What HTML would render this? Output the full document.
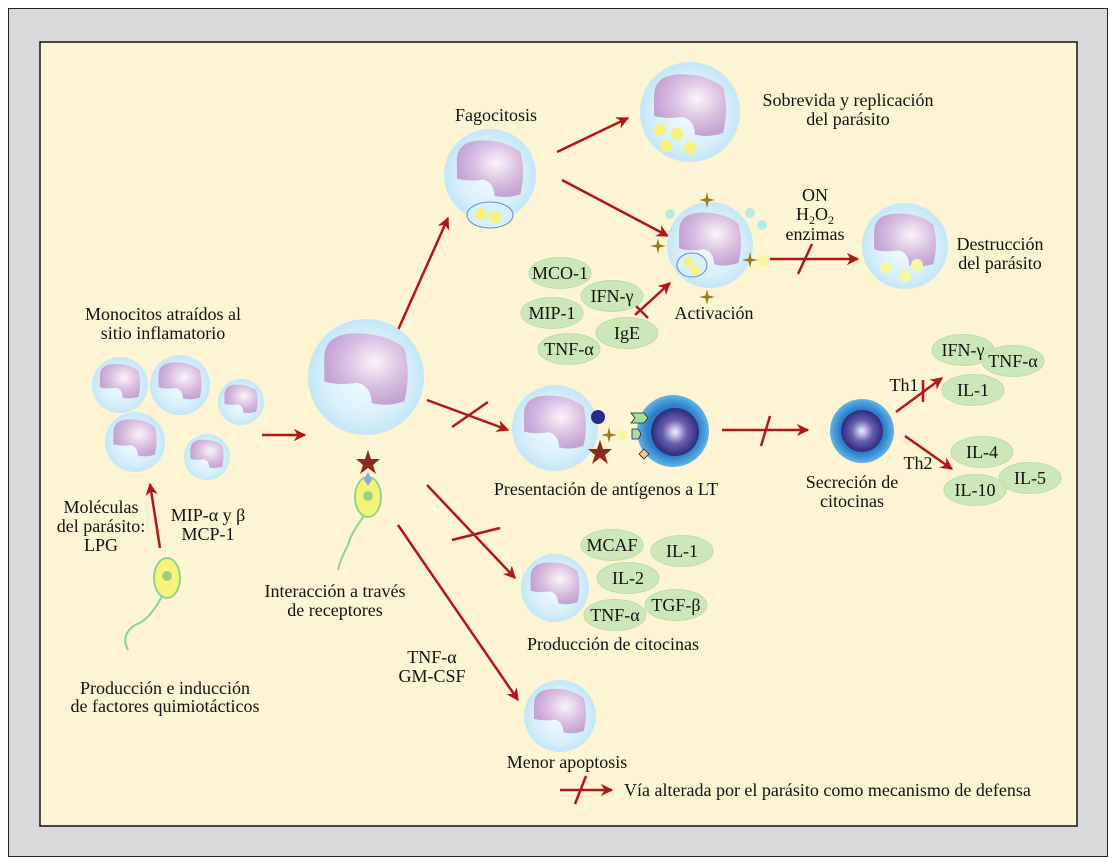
<!DOCTYPE html>
<html><head><meta charset="utf-8"><style>
html,body{margin:0;padding:0;background:#fff;}
svg{display:block;font-family:"Liberation Serif",serif;}
text{font-size:18px;fill:#111;text-anchor:middle;}
</style></head><body>
<svg width="1116" height="864" viewBox="0 0 1116 864" xmlns="http://www.w3.org/2000/svg">
<defs>
<radialGradient id="cg" cx="50%" cy="50%" r="50%"><stop offset="0" stop-color="#f4fbff"/><stop offset="0.7" stop-color="#d8f0fb"/><stop offset="1" stop-color="#c3e6f7"/></radialGradient>
<radialGradient id="ng" cx="60%" cy="40%" r="60%"><stop offset="0" stop-color="#fbf4fb"/><stop offset="0.6" stop-color="#d8bde0"/><stop offset="1" stop-color="#c4a2d2"/></radialGradient>
<radialGradient id="tg" cx="50%" cy="50%" r="50%"><stop offset="0" stop-color="#f4f0ff"/><stop offset="0.5" stop-color="#6b5fb0"/><stop offset="1" stop-color="#2d2a7a"/></radialGradient>
<radialGradient id="tb" cx="50%" cy="50%" r="50%"><stop offset="0.7" stop-color="#2c7fc7"/><stop offset="1" stop-color="#5fb4e6"/></radialGradient>
<g id="cell"><circle r="1" fill="url(#cg)"/><path d="M-0.72,-0.35 Q-0.7,-0.72 -0.25,-0.75 Q0.3,-0.78 0.66,-0.5 Q0.78,-0.05 0.66,0.42 Q0.35,0.52 0.1,0.45 Q0.08,0.15 -0.15,0.1 Q-0.45,0.15 -0.72,0.08 Z" fill="url(#ng)"/></g>
<g id="oval"><ellipse rx="31" ry="15.5" fill="#cde8b8" stroke="#bcdcaa" stroke-width="1"/></g>
<marker id="ah" viewBox="0 0 10 10" refX="9" refY="5" markerWidth="5" markerHeight="5" orient="auto"><path d="M0,0 L10,5 L0,10 L3,5 Z" fill="#b01818"/></marker>
<g id="spark"><path d="M0,-8 L1.5,-1.5 L8,0 L1.5,1.5 L0,8 L-1.5,1.5 L-8,0 L-1.5,-1.5Z" fill="#9a7a1a"/></g>
</defs>
<rect x="8.5" y="8.5" width="1099" height="848" fill="#d9d9dc" stroke="#222" stroke-width="1"/>
<rect x="40" y="42" width="1037" height="784" fill="#fdf4d3" stroke="#111" stroke-width="1.5"/>

<g stroke="#b01818" stroke-width="2.5" fill="none" marker-end="url(#ah)">
<line x1="262" y1="435" x2="305" y2="435"/>
<line x1="160" y1="548" x2="150" y2="484"/>
<line x1="398" y1="330" x2="448" y2="218"/>
<line x1="557" y1="152" x2="628" y2="118"/>
<line x1="562" y1="180" x2="668" y2="236"/>
<line x1="770" y1="259" x2="858" y2="259"/>
<line x1="635" y1="315" x2="670" y2="283"/>
<line x1="427" y1="400" x2="508" y2="430"/>
<line x1="722" y1="430" x2="808" y2="430"/>
<line x1="896" y1="412" x2="942" y2="378"/>
<line x1="905" y1="436" x2="952" y2="469"/>
<line x1="427" y1="485" x2="515" y2="578"/>
<line x1="398" y1="525" x2="518" y2="700"/>
<line x1="560" y1="790" x2="612" y2="790"/>
</g>
<g stroke="#b01818" stroke-width="2.5">
<line x1="798" y1="274" x2="812" y2="244"/>
<line x1="630" y1="300" x2="648" y2="318"/>
<line x1="452" y1="427" x2="488" y2="402"/>
<line x1="923" y1="380" x2="923" y2="402"/>
<line x1="452" y1="540" x2="500" y2="528"/>
<line x1="761" y1="446" x2="770" y2="416"/>
<line x1="575" y1="804" x2="586" y2="776"/>
</g>

<use href="#cell" transform="translate(120,385) scale(28)"/>
<use href="#cell" transform="translate(180,385) scale(30)"/>
<use href="#cell" transform="translate(241,402) scale(23)"/>
<use href="#cell" transform="translate(135,442) scale(30)"/>
<use href="#cell" transform="translate(207,457) scale(23)"/>
<use href="#cell" transform="translate(366,377) scale(58)"/>

<path d="M162,596 Q150,620 135,625 Q120,635 128,650" stroke="#8fd48a" stroke-width="2" fill="none"/>
<ellipse cx="167" cy="578" rx="13" ry="20" fill="#f6f27a" stroke="#8fd48a" stroke-width="2"/>
<circle cx="167" cy="576" r="5" fill="#9ccf80"/>
<path d="M364,516 Q350,535 348,545 Q340,560 338,570" stroke="#8fd48a" stroke-width="2" fill="none"/>
<ellipse cx="368" cy="497" rx="13" ry="20" fill="#f6f27a" stroke="#8fd48a" stroke-width="2"/>
<circle cx="368" cy="496" r="5" fill="#9ccf80"/>
<path d="M368,472 L372,480 L368,486 L364,480Z" fill="#8aa8e0"/>
<path d="M368,450 L371,459 L380,459 L373,465 L376,474 L368,468 L360,474 L363,465 L356,459 L365,459Z" fill="#8a2a1a"/>

<use href="#cell" transform="translate(490,175) scale(46)"/>
<ellipse cx="490" cy="215" rx="23" ry="13" fill="#d8f0fb" stroke="#6a88c8" stroke-width="1"/>
<circle cx="481" cy="214" r="6" fill="#f6f27a"/><circle cx="495" cy="217" r="6" fill="#f6f27a"/>
<use href="#cell" transform="translate(690,112) scale(50)"/>
<circle cx="660" cy="130" r="6" fill="#f6f27a"/><circle cx="677" cy="134" r="6" fill="#f6f27a"/><circle cx="690" cy="148" r="6" fill="#f6f27a"/><circle cx="666" cy="146" r="6" fill="#f6f27a"/>
<use href="#cell" transform="translate(710,245) scale(43)"/>
<ellipse cx="692" cy="265" rx="15" ry="12" fill="#d8f0fb" stroke="#6a88c8" stroke-width="1"/>
<circle cx="688" cy="262" r="5" fill="#f6f27a"/><circle cx="695" cy="270" r="5" fill="#f6f27a"/>
<use href="#spark" x="707" y="200"/><use href="#spark" x="658" y="246"/><use href="#spark" x="750" y="260"/><use href="#spark" x="707" y="297"/>
<circle cx="670" cy="214" r="5" fill="#b8ebe0"/><circle cx="750" cy="213" r="5" fill="#b8ebe0"/><circle cx="762" cy="225" r="5" fill="#b8ebe0"/><circle cx="763" cy="261" r="6" fill="#f6f8a0"/>
<use href="#cell" transform="translate(905,246) scale(43)"/>
<circle cx="886" cy="268" r="6" fill="#f6f8a0"/><circle cx="905" cy="276" r="6" fill="#f6f8a0"/><circle cx="917" cy="265" r="6" fill="#f6f8a0"/>

<g>
<use href="#oval" x="560" y="273"/><text x="560" y="279">MCO-1</text>
<use href="#oval" x="612" y="296"/><text x="612" y="302">IFN-γ</text>
<use href="#oval" x="552" y="313"/><text x="552" y="319">MIP-1</text>
<use href="#oval" x="627" y="333"/><text x="627" y="339">IgE</text>
<use href="#oval" x="569" y="349"/><text x="569" y="355">TNF-α</text>
<use href="#oval" x="963" y="350"/><text x="963" y="356">IFN-γ</text>
<use href="#oval" x="1013" y="361"/><text x="1013" y="367">TNF-α</text>
<use href="#oval" x="973" y="390"/><text x="973" y="396">IL-1</text>
<use href="#oval" x="982" y="452"/><text x="982" y="458">IL-4</text>
<use href="#oval" x="1030" y="478"/><text x="1030" y="484">IL-5</text>
<use href="#oval" x="975" y="490"/><text x="975" y="496">IL-10</text>
<use href="#oval" x="612" y="545"/><text x="612" y="551">MCAF</text>
<use href="#oval" x="682" y="551"/><text x="682" y="557">IL-1</text>
<use href="#oval" x="628" y="578"/><text x="628" y="584">IL-2</text>
<use href="#oval" x="615" y="615"/><text x="615" y="621">TNF-α</text>
<use href="#oval" x="676" y="605"/><text x="676" y="611">TGF-β</text>
</g>

<use href="#cell" transform="translate(555,428) scale(43)"/>
<circle cx="598" cy="417" r="7" fill="#2a2a8a"/>
<path d="M600,440 L603,449 L612,449 L605,455 L608,464 L600,458 L592,464 L595,455 L588,449 L597,449Z" fill="#8a2a1a"/>
<use href="#spark" x="609" y="435"/><circle cx="622" cy="435" r="5" fill="#f6f8a0"/>
<circle cx="673" cy="431" r="36" fill="url(#tb)"/><circle cx="675" cy="432" r="24" fill="url(#tg)"/>
<path d="M631,413 L644,413 L648,418 L644,423 L631,423 L635,418Z" fill="#a8dca0" stroke="#222" stroke-width="0.8"/>
<path d="M632,429 L638,429 Q643,434 638,439 L632,439Z" fill="#a8dca0" stroke="#222" stroke-width="0.8"/>
<path d="M644,449 L649,454 L644,459 L639,454Z" fill="#f0c890" stroke="#222" stroke-width="0.8"/>
<circle cx="862" cy="431" r="32" fill="url(#tb)"/><circle cx="862" cy="431" r="21" fill="url(#tg)"/>

<use href="#cell" transform="translate(555,588) scale(34)"/>
<use href="#cell" transform="translate(560,716) scale(36)"/>

<text x="496" y="121">Fagocitosis</text>
<text x="848" y="106">Sobrevida y replicación</text><text x="848" y="125">del parásito</text>
<text x="815" y="201">ON</text>
<text x="815" y="220">H<tspan font-size="12" dy="4">2</tspan><tspan dy="-4">O</tspan><tspan font-size="12" dy="4">2</tspan></text>
<text x="815" y="240">enzimas</text>
<text x="1000" y="250">Destrucción</text><text x="1000" y="269">del parásito</text>
<text x="714" y="319">Activación</text>
<text x="163" y="320">Monocitos atraídos al</text><text x="163" y="339">sitio inflamatorio</text>
<text x="101" y="513">Moléculas</text><text x="101" y="532">del parásito:</text><text x="101" y="551">LPG</text>
<text x="208" y="521">MIP-α y β</text><text x="208" y="540">MCP-1</text>
<text x="165" y="694">Producción e inducción</text><text x="165" y="712">de factores quimiotácticos</text>
<text x="335" y="597">Interacción a través</text><text x="335" y="616">de receptores</text>
<text x="606" y="495">Presentación de antígenos a LT</text>
<text x="852" y="488">Secreción de</text><text x="852" y="507">citocinas</text>
<text x="904" y="391">Th1</text><text x="918" y="469">Th2</text>
<text x="613" y="650">Producción de citocinas</text>
<text x="432" y="663">TNF-α</text><text x="432" y="682">GM-CSF</text>
<text x="567" y="768">Menor apoptosis</text>
<text x="624" y="796" style="text-anchor:start">Vía alterada por el parásito como mecanismo de defensa</text>
</svg>
</body></html>
